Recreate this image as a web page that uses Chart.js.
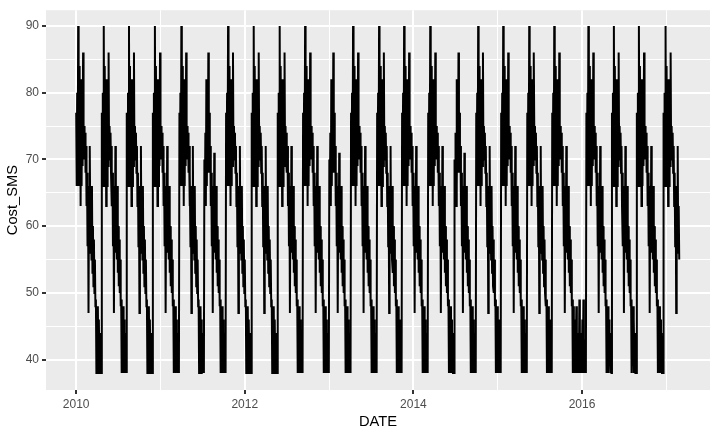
<!DOCTYPE html>
<html><head><meta charset="utf-8">
<script src="https://cdn.jsdelivr.net/npm/chart.js@4.4.1/dist/chart.umd.min.js"></script>
<style>html,body{margin:0;padding:0;background:#fff;} canvas{display:block;}</style>
</head><body>
<canvas id="c" width="717" height="436"></canvas>
<script>
// Start date of each cycle
const cycleStarts = [
  '2010-01-01','2010-04-22','2010-08-09','2010-11-29','2011-03-24','2011-07-10',
  '2011-10-12','2012-01-31','2012-05-23','2012-09-10','2013-01-02','2013-04-06',
  '2013-07-28','2013-11-13','2014-03-06','2014-06-28','2014-09-30','2015-01-16',
  '2015-05-09','2015-08-25','2016-01-20','2016-05-10','2016-08-26','2016-12-20'
];
const endDate = '2017-02-28';
// Per cycle: for each ~4-day slice, the high then the low Cost_SMS value
const cycleValues = [
  [77,66,80,66,90,66,84,66,82,63,82,66,82,69,86,70,75,70,74,68,72,63,68,57,66,47,64,57,72,56,63,55,66,53,60,51,58,50,55,48,49,38,48,40,48,38,46,39,44,38,42,38],
  [77,66,80,66,90,66,84,66,82,63,82,66,82,69,86,70,75,70,74,68,72,63,68,57,66,47,64,57,72,56,63,55,66,53,60,51,58,50,55,48,49,38,48,40,48,38,46,39,44,38,42,38],
  [77,66,80,66,90,66,84,66,82,63,82,66,82,69,86,70,75,70,74,68,72,63,68,57,66,47,64,57,72,56,63,55,66,53,60,51,58,50,55,48,49,38,48,40,48,38,46,39,44,38,42,38],
  [77,66,80,66,90,66,84,66,82,63,82,66,82,69,86,70,75,70,74,68,72,63,68,57,66,47,64,57,72,56,63,55,66,53,60,51,58,50,55,48,49,38,48,40,48,38,46,39,44,38,42,38],
  [77,66,80,66,90,66,84,66,82,63,82,66,82,69,86,70,75,70,74,68,72,63,68,57,66,47,64,57,72,56,63,55,66,53,60,51,58,50,55,48,49,38,48,40,48,38,46,39,44,38,42,38],
  [70,63,74,63,82,66,80,68,86,69,77,68,72,63,68,57,66,47,64,57,71,56,63,55,66,53,60,51,58,50,55,48,49,38,48,40,48,38,46,39,44,38,42,38],
  [77,66,80,66,90,66,84,66,82,63,82,66,82,69,86,70,75,70,74,68,72,63,68,57,66,47,64,57,72,56,63,55,66,53,60,51,58,50,55,48,49,38,48,40,48,38,46,39,44,38,42,38],
  [77,66,80,66,90,66,84,66,82,63,82,66,82,69,86,70,75,70,74,68,72,63,68,57,66,47,64,57,72,56,63,55,66,53,60,51,58,50,55,48,49,38,48,40,48,38,46,39,44,38,42,38],
  [77,66,80,66,90,66,84,66,82,63,82,66,82,69,86,70,75,70,74,68,72,63,68,57,66,47,64,57,72,56,63,55,66,53,60,51,58,50,55,48,49,38,48,40,48,38,46,39,44,38,42,38],
  [77,66,80,66,90,66,84,66,82,63,82,66,82,69,86,70,75,70,74,68,72,63,68,57,66,47,64,57,72,56,63,55,66,53,60,51,58,50,55,48,49,38,48,40,48,38,46,39,44,38,42,38],
  [70,63,74,63,82,66,80,68,86,69,77,68,72,63,68,57,66,47,64,57,71,56,63,55,66,53,60,51,58,50,55,48,49,38,48,40,48,38,46,39,44,38,42,38],
  [77,66,80,66,90,66,84,66,82,63,82,66,82,69,86,70,75,70,74,68,72,63,68,57,66,47,64,57,72,56,63,55,66,53,60,51,58,50,55,48,49,38,48,40,48,38,46,39,44,38,42,38],
  [77,66,80,66,90,66,84,66,82,63,82,66,82,69,86,70,75,70,74,68,72,63,68,57,66,47,64,57,72,56,63,55,66,53,60,51,58,50,55,48,49,38,48,40,48,38,46,39,44,38,42,38],
  [77,66,80,66,90,66,84,66,82,63,82,66,82,69,86,70,75,70,74,68,72,63,68,57,66,47,64,57,72,56,63,55,66,53,60,51,58,50,55,48,49,38,48,40,48,38,46,39,44,38,42,38],
  [77,66,80,66,90,66,84,66,82,63,82,66,82,69,86,70,75,70,74,68,72,63,68,57,66,47,64,57,72,56,63,55,66,53,60,51,58,50,55,48,49,38,48,40,48,38,46,39,44,38,42,38],
  [70,63,74,63,82,66,80,68,86,69,77,68,72,63,68,57,66,47,64,57,71,56,63,55,66,53,60,51,58,50,55,48,49,38,48,40,48,38,46,39,44,38,42,38],
  [77,66,80,66,90,66,84,66,82,63,82,66,82,69,86,70,75,70,74,68,72,63,68,57,66,47,64,57,72,56,63,55,66,53,60,51,58,50,55,48,49,38,48,40,48,38,46,39,44,38,42,38],
  [77,66,80,66,90,66,84,66,82,63,82,66,82,69,86,70,75,70,74,68,72,63,68,57,66,47,64,57,72,56,63,55,66,53,60,51,58,50,55,48,49,38,48,40,48,38,46,39,44,38,42,38],
  [77,66,80,66,90,66,84,66,82,63,82,66,82,69,86,70,75,70,74,68,72,63,68,57,66,47,64,57,72,56,63,55,66,53,60,51,58,50,55,48,49,38,48,40,48,38,46,39,44,38,42,38],
  [77,66,80,66,90,66,84,66,82,63,82,66,82,69,86,70,75,70,74,68,72,63,68,57,66,47,64,57,72,56,63,55,66,53,60,51,58,50,55,48,49,38,48,40,46,38,43,41,48,38,44,40,43,38,49,41,44,38,43,39,46,38,49,41,43,38,42,38],
  [77,66,80,66,90,66,84,66,82,63,82,66,82,69,86,70,75,70,74,68,72,63,68,57,66,47,64,57,72,56,63,55,66,53,60,51,58,50,55,48,49,38,48,40,48,38,46,39,44,38,42,38],
  [77,66,80,66,90,66,84,66,82,63,82,66,82,69,86,70,75,70,74,68,72,63,68,57,66,47,64,57,72,56,63,55,66,53,60,51,58,50,55,48,49,38,48,40,48,38,46,39,44,38,42,38],
  [77,66,80,66,90,66,84,66,82,63,82,66,82,69,86,70,75,70,74,68,72,63,68,57,66,47,64,57,72,56,63,55,66,53,60,51,58,50,55,48,49,38,48,40,48,38,46,39,44,38,42,38],
  [77,66,80,66,90,66,84,66,82,63,82,66,82,69,86,70,75,70,74,68,72,63,68,57,66,47,64,57,72,56,63,55]
];
const xTickLabels = [2010, 2012, 2014, 2016];
const yTickLabels = [40, 50, 60, 70, 80, 90];

function toYear(s) {
  const d = new Date(s + 'T00:00:00Z');
  const y = d.getUTCFullYear();
  const a = Date.UTC(y, 0, 1), b = Date.UTC(y + 1, 0, 1);
  return y + (d.getTime() - a) / (b - a);
}

const points = [];
cycleStarts.forEach((s, i) => {
  const t0 = toYear(s);
  const t1 = toYear(i + 1 < cycleStarts.length ? cycleStarts[i + 1] : endDate);
  const v = cycleValues[i];
  const n = v.length / 2;
  const step = (t1 - t0) / n;
  for (let k = 0; k < n; k++) {
    points.push({x: t0 + step * k, y: v[2 * k]});
    points.push({x: t0 + step * (k + 0.5), y: v[2 * k + 1]});
  }
});

// grid positions: major at labels, minor halfway between
const xMajorStep = xTickLabels[1] - xTickLabels[0];
const xGrid = [];
for (let v = xTickLabels[0]; v <= xTickLabels[xTickLabels.length - 1] + xMajorStep / 2; v += xMajorStep / 2) xGrid.push(v);
const yMajorStep = yTickLabels[1] - yTickLabels[0];
const yGrid = [];
for (let v = yTickLabels[0]; v <= yTickLabels[yTickLabels.length - 1]; v += yMajorStep / 2) yGrid.push(v);

const bg = {
  id: 'bg',
  beforeDraw(c) {
    const {ctx, chartArea: a} = c;
    ctx.save();
    ctx.fillStyle = '#EBEBEB';
    ctx.fillRect(a.left, a.top, a.right - a.left, a.bottom - a.top);
    ctx.restore();
  }
};

const tickFont = {family: "'Liberation Sans', Arial, sans-serif", size: 12};
const titleFont = {family: "'Liberation Sans', Arial, sans-serif", size: 14.7};

new Chart(document.getElementById('c'), {
  type: 'line',
  data: {datasets: [{
    data: points,
    borderColor: '#000000',
    borderWidth: 2,
    pointRadius: 0,
    tension: 0,
    fill: false
  }]},
  options: {
    responsive: false,
    animation: false,
    devicePixelRatio: 1,
    parsing: false,
    normalized: true,
    layout: {padding: {left: 0, right: 7, top: 7, bottom: 0}},
    plugins: {legend: {display: false}, tooltip: {enabled: false}},
    scales: {
      x: {
        type: 'linear',
        min: 2009.642,
        max: 2017.518,
        afterBuildTicks: s => { s.ticks = xGrid.map(v => ({value: v})); },
        afterFit: s => { s.height = 46; },
        border: {display: false},
        grid: {
          color: '#FFFFFF',
          lineWidth: c => (c.tick && xTickLabels.includes(c.tick.value)) ? 2 : 1,
          tickColor: c => (c.tick && xTickLabels.includes(c.tick.value)) ? '#333333' : 'rgba(0,0,0,0)',
          tickLength: 4
        },
        ticks: {
          autoSkip: false, maxRotation: 0, padding: 3,
          color: '#4D4D4D', font: tickFont,
          callback: v => xTickLabels.includes(v) ? String(v) : ''
        },
        title: {display: true, text: 'DATE', color: '#000000', font: titleFont, padding: {top: 0, bottom: 5}}
      },
      y: {
        type: 'linear',
        min: 35.45,
        max: 92.35,
        afterBuildTicks: s => { s.ticks = yGrid.map(v => ({value: v})); },
        afterFit: s => { s.width = 46; },
        border: {display: false},
        grid: {
          color: '#FFFFFF',
          lineWidth: c => (c.tick && yTickLabels.includes(c.tick.value)) ? 2 : 1,
          tickColor: c => (c.tick && yTickLabels.includes(c.tick.value)) ? '#333333' : 'rgba(0,0,0,0)',
          tickLength: 4
        },
        ticks: {
          autoSkip: false, padding: 3,
          color: '#4D4D4D', font: tickFont,
          callback: v => yTickLabels.includes(v) ? String(v) : ''
        },
        title: {display: true, text: 'Cost_SMS', color: '#000000', font: titleFont, padding: {top: 4, bottom: 0}}
      }
    }
  },
  plugins: [bg]
});
</script>
</body></html>
